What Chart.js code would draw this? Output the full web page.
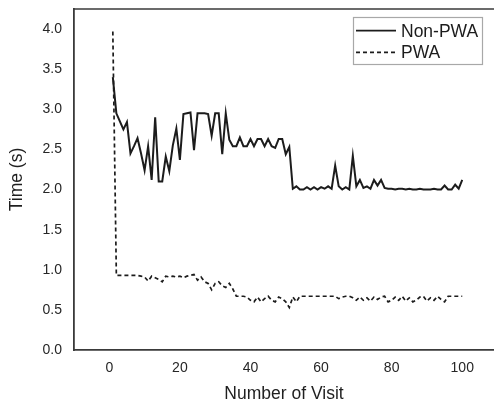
<!DOCTYPE html>
<html>
<head>
<meta charset="utf-8">
<script src="https://cdn.jsdelivr.net/npm/chart.js@4.4.1/dist/chart.umd.min.js"></script>
<style>
  html, body { margin: 0; padding: 0; background: #ffffff; overflow: hidden; }
  #wrap { width: 494px; height: 405px; }
</style>
</head>
<body>
<div id="wrap"><canvas id="c" width="494" height="405"></canvas></div>
<script>
const visits = [1,2,3,4,5,6,7,8,9,10,11,12,13,14,15,16,17,18,19,20,
  21,22,23,24,25,26,27,28,29,30,31,32,33,34,35,36,37,38,39,40,
  41,42,43,44,45,46,47,48,49,50,51,52,53,54,55,56,57,58,59,60,
  61,62,63,64,65,66,67,68,69,70,71,72,73,74,75,76,77,78,79,80,
  81,82,83,84,85,86,87,88,89,90,91,92,93,94,95,96,97,98,99,100];

const nonPwa = [3.40,2.95,2.85,2.75,2.84,2.45,2.54,2.64,2.45,2.24,
  2.54,2.12,2.90,2.10,2.10,2.41,2.23,2.55,2.76,2.37,
  2.94,2.95,2.96,2.49,2.95,2.95,2.95,2.94,2.67,2.95,
  2.95,2.44,2.95,2.62,2.54,2.54,2.65,2.54,2.54,2.63,
  2.54,2.63,2.63,2.54,2.63,2.54,2.52,2.63,2.63,2.44,
  2.53,2.01,2.04,2.00,2.00,2.03,2.00,2.03,2.00,2.03,
  2.01,2.04,2.01,2.30,2.04,2.00,2.03,2.00,2.42,2.04,
  2.12,2.02,2.04,2.01,2.12,2.05,2.12,2.02,2.01,2.01,
  2.00,2.01,2.01,2.00,2.01,2.00,2.00,2.01,2.00,2.00,
  2.00,2.01,2.00,2.00,2.05,2.00,2.00,2.06,2.01,2.12];

const pwa = [3.97,0.93,0.93,0.93,0.93,0.93,0.93,0.93,0.92,0.91,
  0.86,0.92,0.90,0.88,0.85,0.92,0.91,0.92,0.91,0.92,
  0.90,0.92,0.93,0.94,0.87,0.91,0.85,0.83,0.75,0.83,
  0.85,0.80,0.78,0.83,0.76,0.67,0.67,0.67,0.66,0.62,
  0.60,0.66,0.60,0.64,0.67,0.62,0.60,0.66,0.64,0.60,
  0.53,0.66,0.60,0.67,0.67,0.67,0.67,0.67,0.67,0.67,
  0.67,0.67,0.67,0.67,0.64,0.66,0.67,0.67,0.65,0.62,
  0.66,0.62,0.65,0.61,0.66,0.63,0.66,0.67,0.60,0.62,
  0.66,0.62,0.67,0.61,0.65,0.60,0.62,0.66,0.67,0.61,
  0.65,0.62,0.67,0.63,0.60,0.67,0.67,0.67,0.67,0.67];

const xTicks = [0, 20, 40, 60, 80, 100];
const yTicks = [0.0, 0.5, 1.0, 1.5, 2.0, 2.5, 3.0, 3.5, 4.0];
const seriesNames = ['Non-PWA', 'PWA'];

const FONT = "'Liberation Sans', Arial, Helvetica, sans-serif";
const INK = '#1c1c1c';
const AXIS = '#3a3a3a';

const toXY = (vals) => visits.map((v, i) => ({ x: v, y: vals[i] }));

const frameAndLegend = {
  id: 'frameAndLegend',
  afterDraw(chart) {
    const { ctx, chartArea } = chart;
    ctx.save();
    // top frame line
    ctx.strokeStyle = AXIS;
    ctx.lineWidth = 1.6;
    ctx.beginPath();
    ctx.moveTo(chartArea.left, chartArea.top);
    ctx.lineTo(chart.width, chartArea.top);
    ctx.stroke();

    // legend box inside plot
    const bx = 353.5, by = 17.5, bw = 129, bh = 47;
    ctx.fillStyle = '#ffffff';
    ctx.fillRect(bx, by, bw, bh);
    ctx.strokeStyle = '#a8a8a8';
    ctx.lineWidth = 1.2;
    ctx.strokeRect(bx, by, bw, bh);

    const rows = [30.7, 52.3];
    chart.data.datasets.forEach((ds, i) => {
      const y = rows[i];
      ctx.strokeStyle = ds.borderColor;
      ctx.lineWidth = 1.7;
      ctx.setLineDash(ds.borderDash || []);
      ctx.beginPath();
      ctx.moveTo(356, y);
      ctx.lineTo(396, y);
      ctx.stroke();
      ctx.setLineDash([]);
      ctx.fillStyle = INK;
      ctx.font = '17.5px ' + FONT;
      ctx.textAlign = 'left';
      ctx.textBaseline = 'middle';
      ctx.fillText(ds.label, 401, y + 1);
    });
    ctx.restore();
  }
};

new Chart(document.getElementById('c'), {
  type: 'line',
  data: {
    datasets: [
      {
        label: seriesNames[0],
        data: toXY(nonPwa),
        borderColor: INK,
        borderWidth: 2,
        pointRadius: 0,
        tension: 0,
        fill: false
      },
      {
        label: seriesNames[1],
        data: toXY(pwa),
        borderColor: INK,
        borderWidth: 1.7,
        borderDash: [4, 3],
        pointRadius: 0,
        tension: 0,
        fill: false
      }
    ]
  },
  options: {
    responsive: false,
    animation: false,
    devicePixelRatio: 1,
    layout: { padding: { top: 9, right: 0, bottom: 0, left: 0 } },
    plugins: {
      legend: { display: false },
      tooltip: { enabled: false }
    },
    scales: {
      x: {
        type: 'linear',
        min: -10,
        max: 109,
        afterBuildTicks(scale) { scale.ticks = xTicks.map(v => ({ value: v })); },
        afterFit(scale) { scale.height = 55; scale.paddingLeft = 0; scale.paddingRight = 0; },
        grid: { display: false, drawTicks: false },
        border: { display: true, color: AXIS, width: 1.8 },
        ticks: {
          padding: 10,
          color: '#262626',
          font: { family: FONT, size: 14 },
          maxRotation: 0,
          callback: (v) => String(v)
        },
        title: {
          display: true,
          text: 'Number of Visit',
          color: '#1f1f1f',
          font: { family: FONT, size: 17.5 },
          padding: { top: 0, bottom: 0 }
        }
      },
      y: {
        type: 'linear',
        min: 0,
        max: 4.25,
        afterBuildTicks(scale) { scale.ticks = yTicks.map(v => ({ value: v })); },
        afterFit(scale) { scale.width = 74; scale.paddingTop = 0; scale.paddingBottom = 0; },
        grid: { display: false, drawTicks: false },
        border: { display: true, color: AXIS, width: 1.8 },
        ticks: {
          padding: 12,
          color: '#262626',
          font: { family: FONT, size: 14 },
          callback: (v) => Number(v).toFixed(1)
        },
        title: {
          display: true,
          text: 'Time (s)',
          color: '#1f1f1f',
          font: { family: FONT, size: 17.5 },
          padding: { top: 7, bottom: 0 }
        }
      }
    }
  },
  plugins: [frameAndLegend]
});
</script>
</body>
</html>
